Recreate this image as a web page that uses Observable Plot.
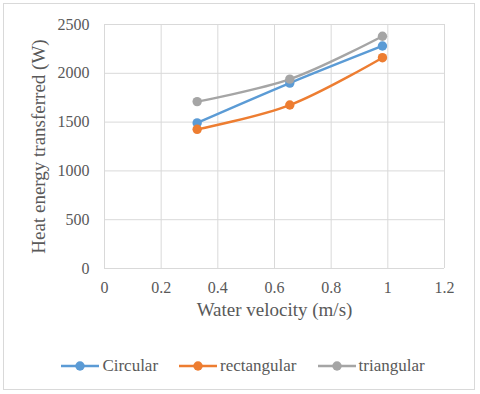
<!DOCTYPE html>
<html>
<head>
<meta charset="utf-8">
<script src="https://cdn.jsdelivr.net/npm/d3@7"></script>
<script src="https://cdn.jsdelivr.net/npm/@observablehq/plot@0.6"></script>
<style>
  html, body { margin: 0; padding: 0; background: #fff; }
  #wrap { position: relative; width: 480px; height: 394px; overflow: hidden; font-family: "Liberation Serif", "DejaVu Serif", serif; color: #595959; }
  #border { position: absolute; left: 3px; top: 3px; width: 472px; height: 387px; border: 1px solid #d9d9d9; box-sizing: border-box; }
  #chart { position: absolute; left: 0; top: 0; }
  #chart svg text { font-family: "Liberation Serif", "DejaVu Serif", serif; }
  #legend { position: absolute; left: 3px; width: 480px; top: 355px; height: 22px; display: flex; justify-content: center; align-items: center; font-size: 17px; font-family: "Liberation Serif", "DejaVu Serif", serif; }
  .item { display: flex; align-items: center; margin: 0 10.5px; }
  .item svg { margin-right: 3px; }
</style>
</head>
<body>
<div id="wrap">
  <div id="border"></div>
  <div id="chart"></div>
  <div id="legend"></div>
</div>
<script>
// ---- data ----
const series = ["Circular", "rectangular", "triangular"];
const colors = ["#5b9bd5", "#ed7d31", "#a5a5a5"];
const velocity = [0.327, 0.654, 0.981];
const circular = [1492, 1900, 2280];
const rectangular = [1426, 1675, 2160];
const triangular = [1710, 1940, 2380];
const xTicks = [0, 0.2, 0.4, 0.6, 0.8, 1, 1.2];
const yTicks = [0, 500, 1000, 1500, 2000, 2500];
const xLabel = "Water velocity (m/s)";
const yLabel = "Heat energy transferred (W)";

const values = [circular, rectangular, triangular];
const rows = [];
series.forEach((s, i) => velocity.forEach((v, j) => rows.push({series: s, x: v, y: values[i][j]})));

const serif = "'Liberation Serif', 'DejaVu Serif', serif";
const grid = "#d9d9d9";
const chart = Plot.plot({
  width: 480,
  height: 340,
  marginLeft: 104,
  marginRight: 36,
  marginTop: 24,
  marginBottom: 72,
  style: {fontFamily: serif, color: "#595959", background: "transparent", overflow: "visible"},
  x: {domain: [0, 1.2]},
  y: {domain: [0, 2500]},
  color: {domain: series, range: colors},
  marks: [
    Plot.gridX(xTicks, {stroke: grid, strokeOpacity: 1, strokeWidth: 1}),
    Plot.gridY(yTicks, {stroke: grid, strokeOpacity: 1, strokeWidth: 1}),
    Plot.axisX({ticks: xTicks, tickSize: 0, tickPadding: 13, fontSize: 16, fontFamily: serif, tickFormat: d => String(d), label: null}),
    Plot.axisY({ticks: yTicks, tickSize: 0, tickPadding: 15, fontSize: 16, fontFamily: serif, tickFormat: d => String(d), label: null}),
    Plot.line(rows, {x: "x", y: "y", z: "series", stroke: "series", strokeWidth: 2.4, curve: "catmull-rom"}),
    Plot.dot(rows, {x: "x", y: "y", fill: "series", r: 4.7}),
    Plot.text([xLabel], {frameAnchor: "bottom", dy: 47, fontSize: 19, fontFamily: serif, fill: "#595959", textAnchor: "middle"}),
    Plot.text([yLabel], {frameAnchor: "left", dx: -66, rotate: -90, fontSize: 19, fontFamily: serif, fill: "#595959", textAnchor: "middle"})
  ]
});
document.getElementById("chart").appendChild(chart);

// legend
const legend = d3.select("#legend");
series.forEach((s, i) => {
  const item = legend.append("div").attr("class", "item");
  const sv = item.append("svg").attr("width", 38).attr("height", 12);
  sv.append("line").attr("x1", 0).attr("x2", 38).attr("y1", 6).attr("y2", 6).attr("stroke", colors[i]).attr("stroke-width", 2.4);
  sv.append("circle").attr("cx", 19).attr("cy", 6).attr("r", 4.7).attr("fill", colors[i]);
  item.append("span").text(s);
});
</script>
</body>
</html>
